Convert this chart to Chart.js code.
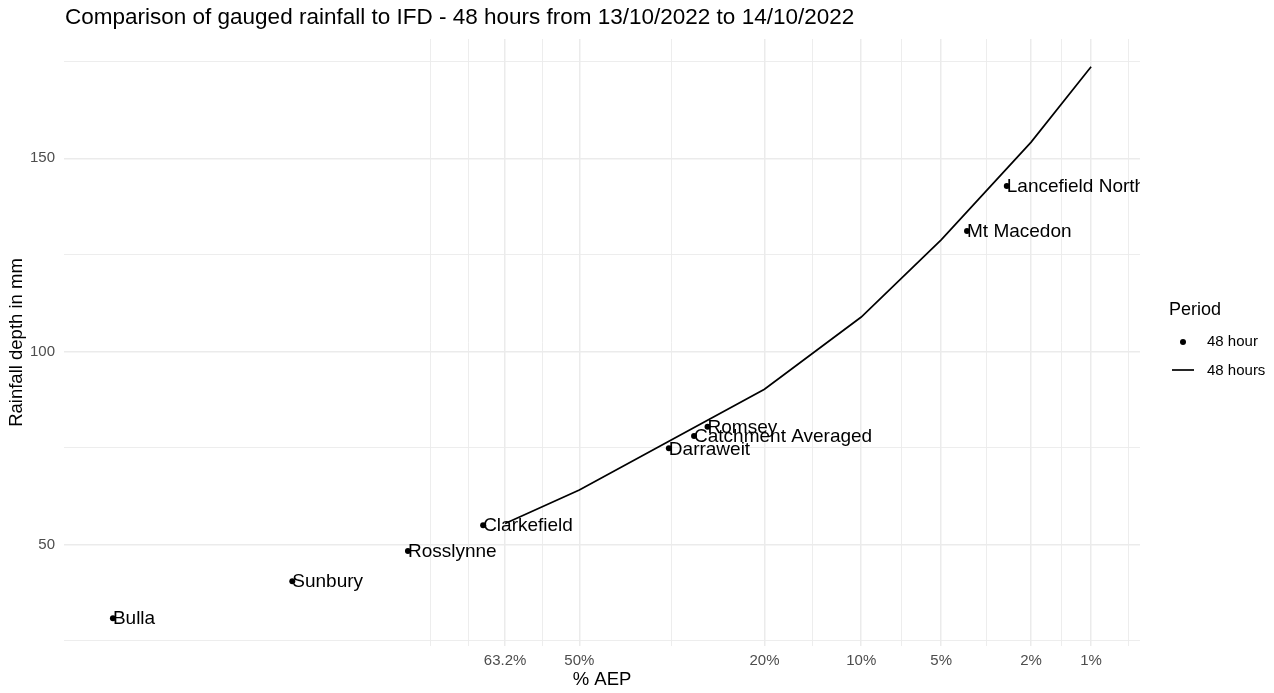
<!DOCTYPE html>
<html>
<head>
<meta charset="utf-8">
<script src="https://cdn.jsdelivr.net/npm/chart.js@4.4.0/dist/chart.umd.min.js"></script>
<style>
  html, body { margin: 0; padding: 0; background: #fff; }
</style>
</head>
<body>
<canvas id="chart" width="1274" height="693"></canvas>
<script>
const TITLE = 'Comparison of gauged rainfall to IFD - 48 hours from 13/10/2022 to 14/10/2022';
const FONT = "'Liberation Sans', Arial, sans-serif";

// gauged 48 hour totals (AEP in %, depth in mm)
const GAUGES = ['Bulla', 'Sunbury', 'Rosslynne', 'Clarkefield', 'Darraweit', 'Catchment Averaged', 'Romsey', 'Mt Macedon', 'Lancefield North'];
const GAUGE_AEP = [98.3, 90.4, 78.2, 66.9, 34.2, 30.1, 28.0, 3.9, 2.6];
const GAUGE_DEPTH = [30.9, 40.5, 48.3, 55.0, 74.9, 78.1, 80.5, 131.2, 142.8];

// IFD curve, 48 hours
const IFD_AEP = [63.2, 50, 20, 10, 5, 2, 1];
const IFD_DEPTH = [55.4, 64.1, 90.2, 108.9, 128.9, 154.2, 173.7];

// axis breaks
const AEP_BREAKS = [63.2, 50, 20, 10, 5, 2, 1];
const AEP_LABELS = ['63.2%', '50%', '20%', '10%', '5%', '2%', '1%'];
const DEPTH_BREAKS = [50, 100, 150];
const DEPTH_MINOR = [25, 75, 125, 175];

// inverse normal (Acklam) - x axis is a probability scale
function qnorm(p) {
  const a = [-39.69683028665376, 220.9460984245205, -275.9285104469687, 138.3577518672690, -30.66479806614716, 2.506628277459239];
  const b = [-54.47609879822406, 161.5858368580409, -155.6989798598866, 66.80131188771972, -13.28068155288572];
  const c = [-0.007784894002430293, -0.3223964580411365, -2.400758277161838, -2.549732539343734, 4.374664141464968, 2.938163982698783];
  const d = [0.007784695709041462, 0.3224671290700398, 2.445134137142996, 3.754408661907416];
  const pl = 0.02425;
  let q, r;
  if (p < pl) {
    q = Math.sqrt(-2 * Math.log(p));
    return (((((c[0]*q+c[1])*q+c[2])*q+c[3])*q+c[4])*q+c[5]) / ((((d[0]*q+d[1])*q+d[2])*q+d[3])*q+1);
  }
  if (p > 1 - pl) {
    q = Math.sqrt(-2 * Math.log(1 - p));
    return -(((((c[0]*q+c[1])*q+c[2])*q+c[3])*q+c[4])*q+c[5]) / ((((d[0]*q+d[1])*q+d[2])*q+d[3])*q+1);
  }
  q = p - 0.5;
  r = q * q;
  return (((((a[0]*r+a[1])*r+a[2])*r+a[3])*r+a[4])*r+a[5])*q / (((((b[0]*r+b[1])*r+b[2])*r+b[3])*r+b[4])*r+1);
}
const probit = aep => qnorm(1 - aep / 100);

// x limits with 5% expansion, like ggplot
const allT = GAUGE_AEP.concat(IFD_AEP).map(probit);
const tMin = Math.min(...allT), tMax = Math.max(...allT);
const tPad = (tMax - tMin) * 0.05;
const xMin = tMin - tPad, xMax = tMax + tPad;

// major + minor gridlines on the transformed axis
const majorT = AEP_BREAKS.map(probit);
const step = majorT[1] - majorT[0];
const ext = [majorT[0] - step, ...majorT, majorT[majorT.length - 1] + step];
const xTicks = [];
ext.forEach((t, i) => {
  const k = majorT.indexOf(t);
  xTicks.push({ value: t, label: k >= 0 ? AEP_LABELS[k] : '', major: k >= 0 });
  if (i < ext.length - 1) xTicks.push({ value: (t + ext[i + 1]) / 2, label: '', major: false });
});
const xTicksIn = xTicks.filter(t => t.value >= xMin && t.value <= xMax);

const gaugeData = GAUGES.map((g, i) => ({ x: probit(GAUGE_AEP[i]), y: GAUGE_DEPTH[i] }));
const ifdData = IFD_AEP.map((a, i) => ({ x: probit(a), y: IFD_DEPTH[i] }));

const decorPlugin = {
  id: 'decor',
  afterDatasetsDraw(chart) {
    const { ctx, chartArea, scales } = chart;
    ctx.save();
    ctx.beginPath();
    ctx.rect(chartArea.left, chartArea.top, chartArea.right - chartArea.left, chartArea.bottom - chartArea.top);
    ctx.clip();
    ctx.fillStyle = '#000';
    ctx.font = '19px ' + FONT;
    ctx.textAlign = 'left';
    ctx.textBaseline = 'middle';
    GAUGES.forEach((g, i) => {
      const px = scales.x.getPixelForValue(probit(GAUGE_AEP[i]));
      const py = scales.y.getPixelForValue(GAUGE_DEPTH[i]);
      ctx.fillText(g, px, py + 1);
    });
    ctx.restore();
  },
  afterDraw(chart) {
    const { ctx, chartArea } = chart;
    ctx.save();
    ctx.fillStyle = '#000';
    ctx.textAlign = 'left';
    ctx.textBaseline = 'middle';
    ctx.font = '22.5px ' + FONT;
    ctx.fillText(TITLE, chartArea.left + 1, 18);

    // legend
    ctx.font = '18px ' + FONT;
    ctx.fillText('Period', 1169, 310);
    ctx.font = '15px ' + FONT;
    ctx.beginPath();
    ctx.arc(1183, 342, 3, 0, Math.PI * 2);
    ctx.fill();
    ctx.fillText('48 hour', 1207, 342);
    ctx.strokeStyle = '#000';
    ctx.lineWidth = 1.7;
    ctx.beginPath();
    ctx.moveTo(1172, 370);
    ctx.lineTo(1194, 370);
    ctx.stroke();
    ctx.fillText('48 hours', 1207, 371);
    ctx.restore();
  }
};

new Chart(document.getElementById('chart'), {
  type: 'scatter',
  data: {
    datasets: [
      {
        label: '48 hours',
        data: ifdData,
        showLine: true,
        borderColor: '#000',
        borderWidth: 1.7,
        pointRadius: 0,
        tension: 0
      },
      {
        label: '48 hour',
        data: gaugeData,
        pointRadius: 3,
        pointBackgroundColor: '#000',
        pointBorderWidth: 0
      }
    ]
  },
  options: {
    responsive: false,
    animation: false,
    layout: { padding: { left: 0, right: 134, top: 39, bottom: 0 } },
    plugins: {
      legend: { display: false },
      title: { display: false },
      tooltip: { enabled: false }
    },
    scales: {
      x: {
        type: 'linear',
        min: xMin,
        max: xMax,
        afterBuildTicks: s => { s.ticks = xTicksIn.map(t => ({ value: t.value })); },
        afterFit: s => { s.height = 47; },
        ticks: {
          autoSkip: false,
          maxRotation: 0,
          padding: 6,
          color: '#4D4D4D',
          font: { family: FONT, size: 15 },
          callback: (v, i) => xTicksIn[i] ? xTicksIn[i].label : ''
        },
        grid: {
          color: '#EBEBEB',
          lineWidth: c => (c.index !== undefined && xTicksIn[c.index] && xTicksIn[c.index].major) ? 1.5 : 0.9,
          drawTicks: false
        },
        border: { display: false },
        title: {
          display: true,
          text: '% AEP',
          color: '#000',
          font: { family: FONT, size: 18.5 },
          padding: { top: 0, bottom: 2 }
        }
      },
      y: {
        min: 23.7,
        max: 180.9,
        afterBuildTicks: s => {
          s.ticks = DEPTH_MINOR.concat(DEPTH_BREAKS).sort((a, b) => a - b).map(v => ({ value: v }));
        },
        afterFit: s => { s.width = 64; },
        ticks: {
          padding: 9,
          color: '#4D4D4D',
          font: { family: FONT, size: 15 },
          callback: v => DEPTH_BREAKS.includes(v) ? String(v) : ''
        },
        grid: {
          color: '#EBEBEB',
          lineWidth: c => (c.tick && DEPTH_BREAKS.includes(c.tick.value)) ? 1.5 : 0.9,
          drawTicks: false
        },
        border: { display: false },
        title: {
          display: true,
          text: 'Rainfall depth in mm',
          color: '#000',
          font: { family: FONT, size: 18.5 },
          padding: { top: 6, bottom: 0 }
        }
      }
    }
  },
  plugins: [decorPlugin]
});
</script>
</body>
</html>
